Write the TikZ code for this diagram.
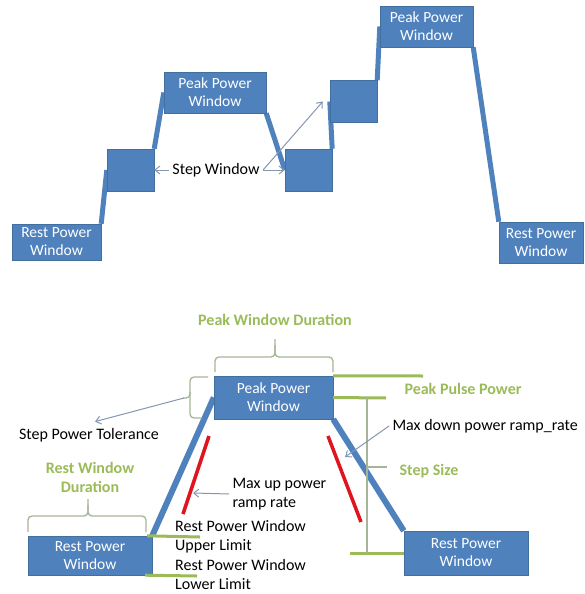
\documentclass[tikz,border=0pt]{standalone}
\usepackage{fontspec}
\setmainfont{Carlito}
\usetikzlibrary{arrows.meta, backgrounds}
\usepackage{xcolor}

\definecolor{boxblue}{HTML}{4F81BD}
\definecolor{boxedge}{HTML}{41709F}
\definecolor{limitgreen}{HTML}{9BBB59}
\definecolor{bracegreen}{HTML}{A6B597}
\definecolor{notegrey}{HTML}{8497B0}
\definecolor{ramprate}{HTML}{E0141E}

\begin{document}
\begin{tikzpicture}[
        x=1pt, y=-1pt,
        every node/.style={font=\fontsize{16}{19}\selectfont},
        powerbox/.style={
            rectangle,
            draw=boxedge,
            fill=boxblue,
            text=white,
            align=center,
            inner sep=0pt,
            font=\fontsize{15.5}{18}\selectfont
        },
        stepbox/.style={
            rectangle,
            draw=boxedge,
            fill=boxblue,
            minimum width=47pt,
            minimum height=42pt
        },
        ramp/.style={
            draw=boxblue,
            line width=5pt
        },
        redline/.style={
            draw=ramprate,
            line width=3.5pt
        },
        limit/.style={
            draw=limitgreen,
            line width=3pt
        },
        brace/.style={
            draw=bracegreen,
            line width=1.3pt,
            rounded corners=4pt
        },
        note/.style={
            draw=notegrey,
            line width=1pt,
            -{Straight Barb[length=5pt,width=8pt]}
        },
        greenlabel/.style={
            text=limitgreen,
            align=center,
            font=\fontsize{16}{19}\selectfont\bfseries
        }
    ]

    \useasboundingbox (0,0) rectangle (584,594);

    % Upper sequence of windows
    \node[powerbox, minimum width=89pt, minimum height=36pt] (restA) at (56.5,242)
        {Rest Power\\Window};
    \node[stepbox] (stepA) at (130.5,170) {};
    \node[powerbox, minimum width=102pt, minimum height=41pt] (peakA) at (215,92.5)
        {Peak Power\\Window};
    \node[stepbox] (stepB) at (308.5,170) {};
    \node[stepbox] (stepC) at (353.5,101.5) {};
    \node[powerbox, minimum width=93pt, minimum height=41pt] (peakB) at (426.5,26.5)
        {Peak Power\\Window};
    \node[powerbox, minimum width=84pt, minimum height=41pt] (restB) at (541,242.5)
        {Rest Power\\Window};

    \begin{scope}[on background layer]
        \draw[ramp] (restA.north east) -- (stepA.west);
        \draw[ramp] (stepA.north east) -- (peakA.west);
        \draw[ramp] (peakA.south east) -- (stepB.west);
        \draw[ramp] (stepB.north east) -- (stepC.west);
        \draw[ramp] (stepC.north east) -- (peakB.west);
        \draw[ramp] (peakB.south east) -- (restB.north west);
    \end{scope}

    % Step window label
    \node (stepwin) at (216,170) {Step Window};
    \draw[note] (stepwin.west) -- (stepA.east);
    \draw[note] (stepwin.east) -- (stepB.west);
    \draw[note] (stepwin.east) -- ([xshift=-7pt]stepC.west);

    % Lower pulse
    \node[powerbox, minimum width=124pt, minimum height=39pt] (restC) at (90,555.5)
        {Rest Power\\Window};
    \node[powerbox, minimum width=119pt, minimum height=43pt] (peakC) at (273.5,397.5)
        {Peak Power\\Window};
    \node[powerbox, minimum width=124pt, minimum height=44pt] (restD) at (466,553)
        {Rest Power\\Window};

    \begin{scope}[on background layer]
        \draw[ramp, line width=6pt] (restC.north east) -- (peakC.west);
        \draw[ramp, line width=6pt] (peakC.south east) -- (restD.north west);
    \end{scope}

    % Ramp rate limits
    \draw[redline] (209,436) -- (183,514);
    \draw[redline] (328,436) -- (361,522);

    % Power levels
    \draw[limit] (peakC.north east) -- (423,376);
    \draw[limit] (peakC.east) -- (386,398);
    \draw[limit] (restD.west) -- (350,553);
    \draw[limit] ([xshift=-5pt]restC.north east) -- (200,537);
    \draw[limit] ([xshift=-7pt]restC.south east) -- (197,576);
    \draw[brace, rounded corners=0pt] (367,398) -- (367,553);
    \draw[brace, rounded corners=0pt] (367,467) -- (387,467);

    % Durations and tolerance
    \draw[brace] (215,372) -- (215,357) -- (275,357) -- (275,339);
    \draw[brace] (275,345) -- (275,357) -- (333,357) -- (333,372);
    \draw[brace] (28,532) -- (28,516) -- (88,516) -- (88,499);
    \draw[brace] (88,505) -- (88,516) -- (146,516) -- (146,532);
    \draw[brace] (208,377) -- (190,377) -- (190,398) -- (183,398);
    \draw[brace] (190,392) -- (190,418) -- (202,418);
    \coordinate (tolTip) at (184,398);

    % Labels
    \node[greenlabel] (peakdur) at (275,320) {Peak Window Duration};
    \node[greenlabel] (restdur) at (90,477) {Rest Window\\Duration};
    \node[greenlabel] (pulse) at (463,389) {Peak Pulse Power};
    \node[greenlabel] (stepsize) at (429,471) {Step Size};
    \node (tolerance) at (89,435) {Step Power Tolerance};
    \draw[note] (tolTip) -- ([xshift=6pt, yshift=3pt]tolerance.north);

    \node[anchor=west] (maxdown) at (389,426) {Max down power ramp\_rate};
    \coordinate (downTip) at (345,457);
    \draw[note] (maxdown.west) -- (downTip);

    \node[anchor=west, align=left] (maxup) at (229,494) {Max up power\\ramp rate};
    \coordinate (upTip) at (193,493);
    \draw[note] (maxup.west) -- (upTip);

    \node[anchor=west, align=left, inner sep=1pt] (upper) at (174,537)
        {Rest Power Window\\Upper Limit};
    \node[anchor=west, align=left, inner sep=1pt] (lower) at (174,574.5)
        {Rest Power Window\\Lower Limit};

\end{tikzpicture}
\end{document}
